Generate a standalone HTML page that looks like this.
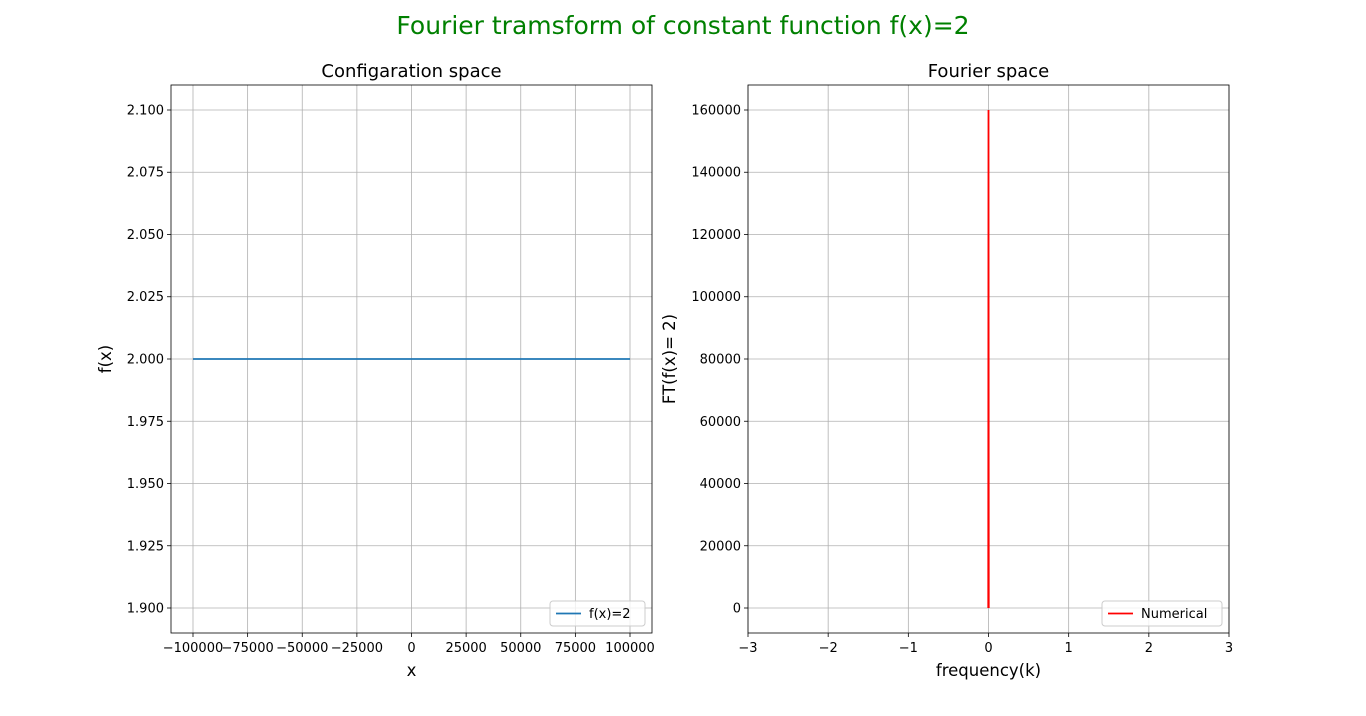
<!DOCTYPE html>
<html><head><meta charset="utf-8"><style>
body{margin:0;background:#fff;font-family:"Liberation Sans","DejaVu Sans",sans-serif}
svg text{font-family:"DejaVu Sans","Liberation Sans",sans-serif}
</style></head><body>
<svg id="c" width="1366" height="711" xmlns="http://www.w3.org/2000/svg">
<text x="683" y="34" text-anchor="middle" font-size="25" fill="green">Fourier tramsform of constant function f(x)=2</text>
</svg>
<script>
const leftX=[-100000,100000];
const leftY=[2,2];
const leftXTicks=[-100000,-75000,-50000,-25000,0,25000,50000,75000,100000];
const leftYTicks=[1.9,1.925,1.95,1.975,2.0,2.025,2.05,2.075,2.1];
const rightX=[-0.003,0,0.003];
const rightY=[0,160000,0];
const rightXTicks=[-3,-2,-1,0,1,2,3];
const rightYTicks=[0,20000,40000,60000,80000,100000,120000,140000,160000];
const NS="http://www.w3.org/2000/svg";
const svg=document.getElementById('c');
function el(t,a,p){const e=document.createElementNS(NS,t);for(const k in a)e.setAttribute(k,a[k]);(p||svg).appendChild(e);return e;}
function panel(o){
 const g=el('g',{});
 
 
 const sx=v=>o.x0+(v-o.xmin)/(o.xmax-o.xmin)*(o.x1-o.x0);
 const sy=v=>o.y1-(v-o.ymin)/(o.ymax-o.ymin)*(o.y1-o.y0);
 o.xt.forEach(t=>{const x=sx(t);
  const l=el('line',{x1:x,x2:x,y1:o.y0,y2:o.y1,stroke:'#b0b0b0','stroke-width':0.8},g);
  
  
  el('line',{x1:x,x2:x,y1:o.y1,y2:o.y1+4,stroke:'#000','stroke-width':0.8},g);
  const tx=el('text',{x:x,y:o.y1+19,'text-anchor':'middle','font-size':13},g);tx.textContent=o.xf(t);
  
  });
 o.yt.forEach(t=>{const y=sy(t);
  const l=el('line',{x1:o.x0,x2:o.x1,y1:y,y2:y,stroke:'#b0b0b0','stroke-width':0.8},g);
  
  
  el('line',{x1:o.x0-4,x2:o.x0,y1:y,y2:y,stroke:'#000','stroke-width':0.8},g);
  const tx=el('text',{x:o.x0-7,y:y+4.5,'text-anchor':'end','font-size':13},g);tx.textContent=o.yf(t);
  
  });
 const pts=o.dx.map((v,i)=>sx(v)+','+sy(o.dy[i])).join(' ');
 const pl=el('polyline',{points:pts,fill:'none',stroke:o.color,'stroke-width':1.8},g);
 
 
 const fr=el('rect',{x:o.x0,y:o.y0,width:o.x1-o.x0,height:o.y1-o.y0,fill:'none',stroke:'#000','stroke-width':0.8},g);
 
 
 const ti=el('text',{x:(o.x0+o.x1)/2,y:o.y0-8,'text-anchor':'middle','font-size':18},g);ti.textContent=o.title;
 
 
 const xl=el('text',{x:(o.x0+o.x1)/2,y:676,'text-anchor':'middle','font-size':16.5},g);xl.textContent=o.xlab;
 
 
 const yc=(o.y0+o.y1)/2;
 const yl=el('text',{x:o.ylx,y:yc,'text-anchor':'middle','font-size':16.5,transform:`rotate(-90 ${o.ylx} ${yc})`},g);yl.textContent=o.ylab;
 
 
 const lg=el('g',{},g);
 
 
 el('rect',{x:o.lx,y:601,width:o.lw,height:25,rx:3,fill:'#fff','fill-opacity':0.8,stroke:'#ccc'},lg);
 el('line',{x1:o.lx+6,x2:o.lx+31,y1:613.5,y2:613.5,stroke:o.color,'stroke-width':1.8},lg);
 const lt=el('text',{x:o.lx+39,y:618,'font-size':13},lg);lt.textContent=o.leg;
 
 
}
panel({name:'configuration-space-panel',x0:171,x1:652,y0:85,y1:633,xmin:-110068,xmax:110068,ymin:1.88996,ymax:2.11004,
 xt:leftXTicks,yt:leftYTicks,xf:t=>String(t).replace('-','\u2212'),yf:t=>t.toFixed(3),dx:leftX,dy:leftY,color:'#1f77b4',
 lineName:'constant-line',title:'Configaration space',xlab:'x',ylab:'f(x)',ylx:111,lx:550,lw:95,leg:'f(x)=2'});
panel({name:'fourier-space-panel',x0:748,x1:1229,y0:85,y1:633,xmin:-3,xmax:3,ymin:-8032,ymax:168032,
 xt:rightXTicks,yt:rightYTicks,xf:t=>String(t).replace('-','\u2212'),yf:t=>String(t),dx:rightX,dy:rightY,color:'red',
 lineName:'numerical-spike',title:'Fourier space',xlab:'frequency(k)',ylab:'FT(f(x)= 2)',ylx:675,lx:1102,lw:120,leg:'Numerical'});
</script>
</body></html>
